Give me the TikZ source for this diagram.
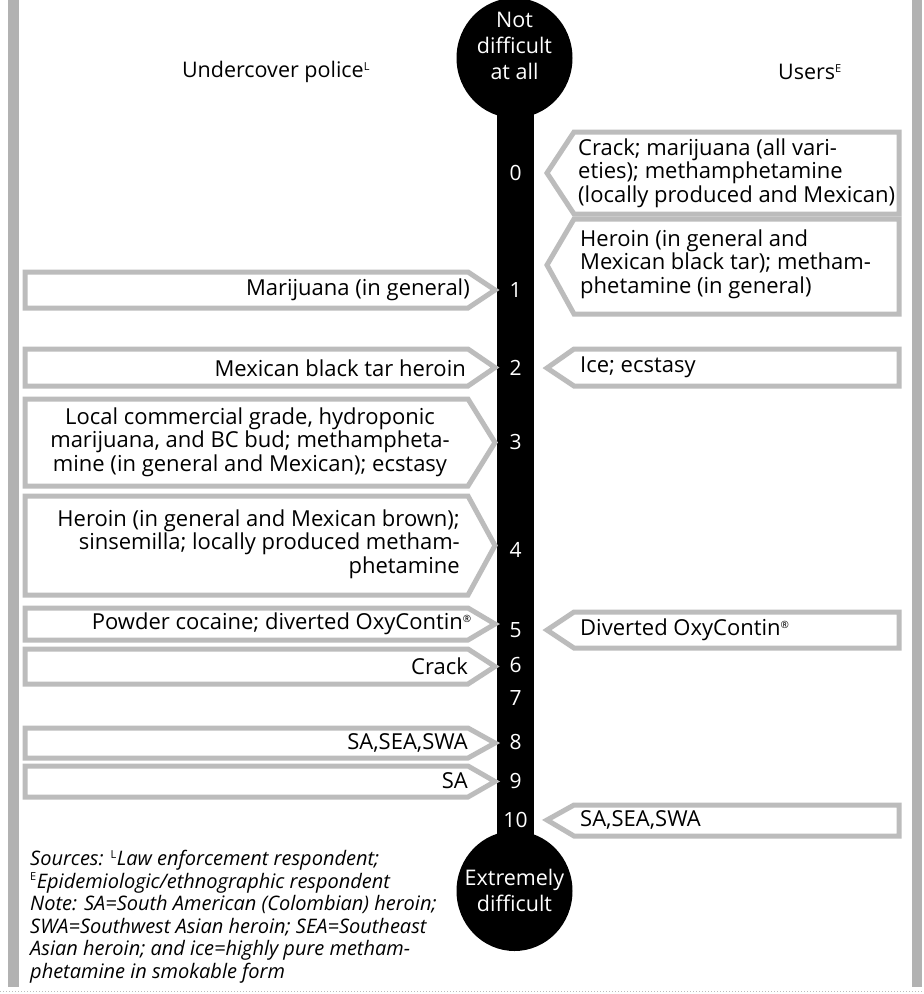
\documentclass[tikz,border=0pt]{standalone}
\usepackage{fontspec}
\setmainfont{Open Sans}
\usetikzlibrary{shapes.geometric}
\definecolor{barg}{RGB}{178,178,178}
\definecolor{boxg}{RGB}{188,188,188}
\tikzset{
  boxline/.style={draw=boxg, line width=5pt, fill=white, line join=miter},
  txt/.style={inner sep=0pt, font=\fontsize{22}{23.5}\selectfont, text=black},
  num/.style={inner sep=0pt, font=\fontsize{21}{24}\selectfont, text=white},
  head/.style={inner sep=0pt, font=\fontsize{21.5}{25}\selectfont, align=center},
  capsule/.style={ellipse, fill=black, inner sep=0pt, minimum width=116pt, minimum height=120pt},
  captext/.style={inner sep=0pt, text=white, font=\fontsize{21.5}{26}\selectfont, align=center}
}
\newcommand\LBox[2]{\draw[boxline] (25,#1) -- (468,#1) -- (495,{(#1+#2)/2}) -- (468,#2) -- (25,#2) -- cycle;}
\newcommand\RBox[3]{\draw[boxline] (899,#1) -- (574,#1) -- (547,#3) -- (574,#2) -- (899,#2) -- cycle;}
\begin{document}
\begin{tikzpicture}[x=1pt,y=-1pt]
\useasboundingbox (0,0) rectangle (924,994);
\fill[white] (0,0) rectangle (924,994);
% side bars
\fill[barg] (8,0) rectangle (19,987);
\fill[barg] (912,0) rectangle (922,987);
\draw[boxg, line width=1pt, dotted] (0,991) -- (924,991);
% scale
\fill[black] (497,90) rectangle (534,862);
\node[capsule] (top) at (514.5,58) {};
\node[captext] (toptext) at (514.5,46) {Not\\difficult\\at all};
\node[capsule] (bot) at (514.5,891) {};
\node[captext] (bottext) at (514.5,890) {Extremely\\difficult};
% headings
\node[head] (police) at (276,72) {Undercover police\textsuperscript{\fontsize{11}{11}\selectfont L}};
\node[head] (users) at (810,72) {Users\textsuperscript{\fontsize{11}{11}\selectfont E}};
% numbers
\foreach \n/\yy in {0/173,1/290,2/368,3/442,4/550,5/630,6/665,7/698,8/742,9/781,10/820}
  \node[num] (n\n) at (515.5,\yy) {\n};
% left boxes
\LBox{272}{308}
\node[txt, anchor=east] (l1) at (470,290) {Marijuana (in general)};
\LBox{349}{386}
\node[txt, anchor=east] (l2) at (466,368) {Mexican black tar heroin};
\LBox{399}{486}
\node[txt, align=center] (l3) at (250,442) {Local commercial grade, hydroponic\\marijuana, and BC bud; methampheta-\\mine (in general and Mexican); ecstasy};
\LBox{496}{595}
\node[txt, align=right, anchor=east] (l4) at (460,544) {Heroin (in general and Mexican brown);\\sinsemilla; locally produced metham-\\phetamine};
\LBox{608}{640}
\node[txt, anchor=east] (l5) at (472,624) {Powder cocaine; diverted OxyContin\textsuperscript{\fontsize{10}{10}\selectfont ®}};
\LBox{649}{684}
\node[txt, anchor=east] (l6) at (468,666) {Crack};
\LBox{728}{758}
\node[txt, anchor=east] (l8) at (468,743) {SA,SEA,SWA};
\LBox{766}{797}
\node[txt, anchor=east] (l9) at (468,781) {SA};
% right boxes
\RBox{132}{214}{173}
\node[txt, align=left, anchor=west] (r0) at (578,173) {Crack; marijuana (all vari-\\eties); methamphetamine\\(locally produced and Mexican)};
\RBox{219}{314}{265}
\node[txt, align=left, anchor=west] (r1) at (580,264) {Heroin (in general and\\Mexican black tar); metham-\\phetamine (in general)};
\RBox{349}{386}{368}
\node[txt, anchor=west] (r2) at (580,367) {Ice; ecstasy};
\RBox{612}{648}{630}
\node[txt, anchor=west] (r5) at (580,630) {Diverted OxyContin\textsuperscript{\fontsize{10}{10}\selectfont ®}};
\RBox{805}{836}{820}
\node[txt, anchor=west] (r10) at (580,820) {SA,SEA,SWA};
% notes
\node[inner sep=0pt, anchor=north west, align=left, font=\itshape\fontsize{20}{22.6}\selectfont] (notes) at (30,850)
 {Sources: {\upshape\textsuperscript{\fontsize{11}{11}\selectfont L}}Law enforcement respondent;\\
  {\upshape\textsuperscript{\fontsize{11}{11}\selectfont E}}Epidemiologic/ethnographic respondent\\
  Note: SA=South American (Colombian) heroin;\\
  SWA=Southwest Asian heroin; SEA=Southeast\\
  Asian heroin; and ice=highly pure metham-\\
  phetamine in smokable form};
\end{tikzpicture}
\end{document}
